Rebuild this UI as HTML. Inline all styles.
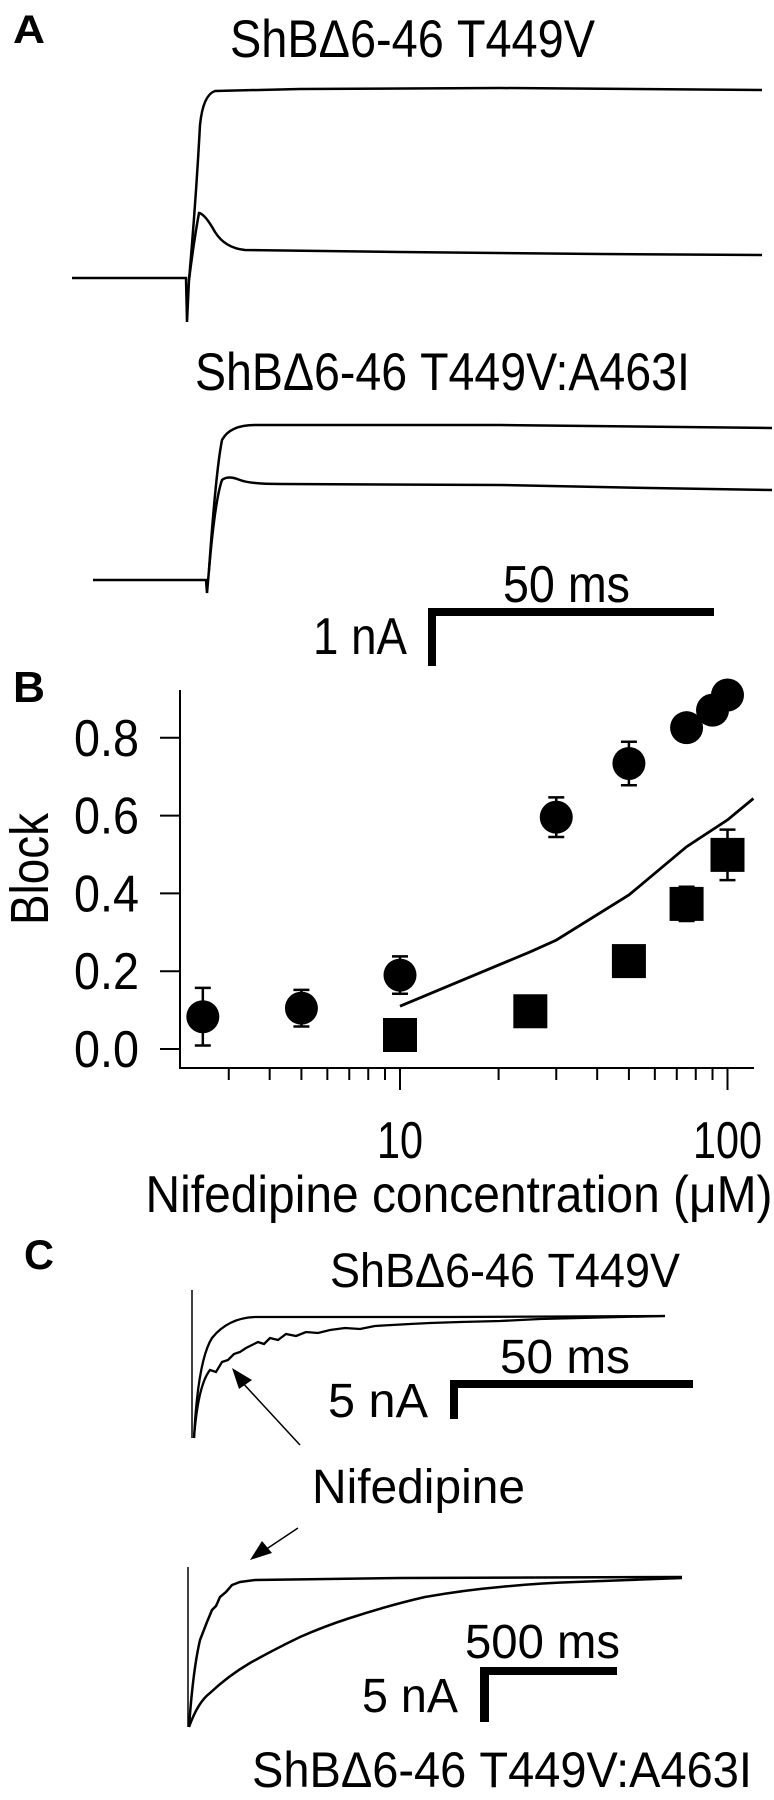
<!DOCTYPE html>
<html><head><meta charset="utf-8">
<style>
html,body{margin:0;padding:0;background:#fff;}
svg{display:block;font-family:"Liberation Sans",sans-serif;}
text{fill:#000;}
</style></head>
<body>
<svg id="fig" width="774" height="1800" viewBox="0 0 774 1800">
  <!-- Panel A -->
  <g>
    <text x="13" y="43" font-size="40" font-weight="bold" textLength="32" lengthAdjust="spacingAndGlyphs">A</text>
    <text x="230" y="57" font-size="53" textLength="365" lengthAdjust="spacingAndGlyphs">ShBΔ6-46 T449V</text>
    <path fill="none" stroke="#000" stroke-width="2.5"
      d="M72,278 L186,278 L187,322 L189,280 Q196,200 200,125 Q203,95 215,91 L300,89 L500,88 L762,90"/>
    <path fill="none" stroke="#000" stroke-width="2.5"
      d="M189,280 Q194,240 199,213 Q205,214 215,232 Q225,248 245,250 L400,252 L600,254 L762,255"/>
    <text x="195" y="390" font-size="53" textLength="495" lengthAdjust="spacingAndGlyphs">ShBΔ6-46 T449V:A463I</text>
    <path fill="none" stroke="#000" stroke-width="2.5"
      d="M93,580 L206,580 L207,593 L209,570 Q216,470 222,440 Q230,425 255,425 L500,425 L772,428"/>
    <path fill="none" stroke="#000" stroke-width="2.5"
      d="M209,570 Q215,500 222,480 Q228,475 240,480 Q250,484 280,484 L500,485 L650,488 L772,490"/>
    <g>
      <rect x="428" y="608" width="286" height="8" fill="#000"/>
      <rect x="428" y="608" width="8" height="58" fill="#000"/>
      <text x="503" y="602" font-size="52" textLength="127" lengthAdjust="spacingAndGlyphs">50 ms</text>
      <text x="313" y="654" font-size="52" textLength="94" lengthAdjust="spacingAndGlyphs">1 nA</text>
    </g>
  </g>

  <!-- Panel B -->
  <g id="panelB">
    <text x="13" y="702" font-size="44" font-weight="bold" textLength="32" lengthAdjust="spacingAndGlyphs">B</text>
    <text transform="translate(48,869) rotate(-90)" text-anchor="middle" font-size="54" textLength="112" lengthAdjust="spacingAndGlyphs">Block</text>
    <text x="459" y="1212" text-anchor="middle" font-size="52" textLength="627" lengthAdjust="spacingAndGlyphs">Nifedipine concentration (μM)</text>
  </g>

  <!-- Panel C -->
  <g>
    <text x="24" y="1269" font-size="42" font-weight="bold" textLength="30" lengthAdjust="spacingAndGlyphs">C</text>
    <text x="330" y="1287" font-size="48" textLength="350" lengthAdjust="spacingAndGlyphs">ShBΔ6-46 T449V</text>
    <line x1="192" y1="1290" x2="192" y2="1438" stroke="#000" stroke-width="1.5"/>
    <path fill="none" stroke="#000" stroke-width="2.3"
      d="M194,1438 Q198,1360 212,1338 Q228,1318 255,1317 L450,1317 L665,1316"/>
    <path fill="none" stroke="#000" stroke-width="2.3"
      d="M194,1438 Q198,1385 210,1370 L216,1372 L222,1362 L228,1360 L234,1354 L240,1352 L246,1348 L252,1345 L258,1342 L264,1344 L270,1338 L278,1340 L286,1334 L296,1336 L306,1332 L318,1333 L330,1330 L345,1328 L360,1329 L375,1326 L392,1325 L410,1324 L430,1323 L460,1322 L500,1321 L540,1319 L580,1318 L620,1317 L665,1316"/>
    <g>
      <rect x="450" y="1380" width="243" height="8" fill="#000"/>
      <rect x="450" y="1380" width="8" height="39" fill="#000"/>
      <text x="500" y="1373" font-size="48" textLength="130" lengthAdjust="spacingAndGlyphs">50 ms</text>
      <text x="328" y="1417" font-size="48" textLength="100" lengthAdjust="spacingAndGlyphs">5 nA</text>
    </g>
    <g>
      <line x1="300" y1="1445" x2="240" y2="1380" stroke="#000" stroke-width="1.5"/>
      <polygon points="232,1368 252,1380 239,1389" fill="#000"/>
      <text x="312" y="1503" font-size="48" textLength="213" lengthAdjust="spacingAndGlyphs">Nifedipine</text>
      <line x1="298" y1="1528" x2="262" y2="1552" stroke="#000" stroke-width="1.5"/>
      <polygon points="250,1560 262,1541 272,1553" fill="#000"/>
    </g>
    <line x1="188" y1="1567" x2="188" y2="1727" stroke="#000" stroke-width="1.5"/>
    <path fill="none" stroke="#000" stroke-width="2.5"
      d="M189,1727 Q193,1670 200,1640 L207,1622 L212,1610 L216,1606 L220,1597 L226,1592 L232,1585 L240,1582 L255,1580 L400,1578 L682,1577"/>
    <path fill="none" stroke="#000" stroke-width="2.5"
      d="M189,1727 Q198,1702 210,1693 Q228,1676 250,1663 Q275,1649 300,1637 Q325,1626 350,1618 Q390,1605 425,1597 Q465,1590 500,1587 Q540,1583 575,1582 L682,1578"/>
    <g>
      <rect x="480" y="1667" width="137" height="8" fill="#000"/>
      <rect x="480" y="1667" width="9" height="55" fill="#000"/>
      <text x="465" y="1658" font-size="48" textLength="155" lengthAdjust="spacingAndGlyphs">500 ms</text>
      <text x="362" y="1712" font-size="48" textLength="96" lengthAdjust="spacingAndGlyphs">5 nA</text>
    </g>
    <text x="252" y="1787" font-size="50" textLength="500" lengthAdjust="spacingAndGlyphs">ShBΔ6-46 T449V:A463I</text>
  </g>
</svg>
<script>
// Panel B data
const circleConc = [2.5, 5, 10, 30, 50, 75, 90, 100];
const circleBlock = [0.083, 0.105, 0.19, 0.596, 0.734, 0.826, 0.871, 0.91];
const circleErr = [0.074, 0.047, 0.048, 0.051, 0.056, 0, 0, 0];
const squareConc = [10, 25, 50, 75, 100];
const squareBlock = [0.036, 0.097, 0.226, 0.373, 0.499];
const squareErr = [0, 0, 0, 0.044, 0.065];
const fitConc = [10, 25, 30, 50, 75, 100, 120];
const fitBlock = [0.11, 0.25, 0.28, 0.396, 0.52, 0.589, 0.644];
const yTicks = [0.0, 0.2, 0.4, 0.6, 0.8];
const yTickLabels = ["0.0", "0.2", "0.4", "0.6", "0.8"];
const xMajor = [10, 100];
const xMajorLabels = ["10", "100"];
const xMinor = [3, 4, 5, 6, 7, 8, 9, 20, 30, 40, 50, 60, 70, 80, 90];

const NS = "http://www.w3.org/2000/svg";
const g = document.getElementById("panelB");
function X(c){ return 400 + (Math.log10(c) - 1) * 327.5; }
function Y(v){ return 1049 - v * 389; }
function mk(tag, attrs){ const e = document.createElementNS(NS, tag); for (const k in attrs) e.setAttribute(k, attrs[k]); g.appendChild(e); return e; }

let e;
e = mk("line", {x1:180, y1:690, x2:180, y2:1068, stroke:"#000", "stroke-width":2});


e = mk("line", {x1:179, y1:1068, x2:754, y2:1068, stroke:"#000", "stroke-width":2});



yTicks.forEach((v, i) => {
  let t = mk("line", {x1:160, y1:Y(v), x2:180, y2:Y(v), stroke:"#000", "stroke-width":2});
  
  
  let l = mk("text", {x:139, y:Y(v)+18, "text-anchor":"end", "font-size":52, textLength:65, lengthAdjust:"spacingAndGlyphs"});
  l.textContent = yTickLabels[i];
  
  
});
xMinor.forEach(c => {
  let t = mk("line", {x1:X(c), y1:1068, x2:X(c), y2:1080, stroke:"#000", "stroke-width":2});
  
  
});
xMajor.forEach((c, i) => {
  let t = mk("line", {x1:X(c), y1:1068, x2:X(c), y2:1090, stroke:"#000", "stroke-width":2});
  
  
  let l = mk("text", {x:X(c), y:1158, "text-anchor":"middle", "font-size":52, textLength:(xMajorLabels[i].length*23), lengthAdjust:"spacingAndGlyphs"});
  l.textContent = xMajorLabels[i];
  
  
});

// fit line
let d = fitConc.map((c, i) => (i ? "L" : "M") + X(c).toFixed(1) + "," + Y(fitBlock[i]).toFixed(1)).join(" ");
e = mk("path", {d:d, fill:"none", stroke:"#000", "stroke-width":2.8});



function errbar(x, v, err, name){
  if (!err) return;
  const p = mk("path", {d:`M${x},${Y(v+err)} L${x},${Y(v-err)} M${x-8},${Y(v+err)} L${x+8},${Y(v+err)} M${x-8},${Y(v-err)} L${x+8},${Y(v-err)}`, stroke:"#000", "stroke-width":2.5, fill:"none"});
  
  
}
squareConc.forEach((c, i) => {
  errbar(X(c), squareBlock[i], squareErr[i], 'square-error-bar');
  const r = mk("rect", {x:X(c)-17, y:Y(squareBlock[i])-17, width:34, height:34, fill:"#000"});
  
  
});
circleConc.forEach((c, i) => {
  errbar(X(c), circleBlock[i], circleErr[i], 'circle-error-bar');
  const r = mk("circle", {cx:X(c), cy:Y(circleBlock[i]), r:16.5, fill:"#000"});
  
  
});
</script>
</body></html>
